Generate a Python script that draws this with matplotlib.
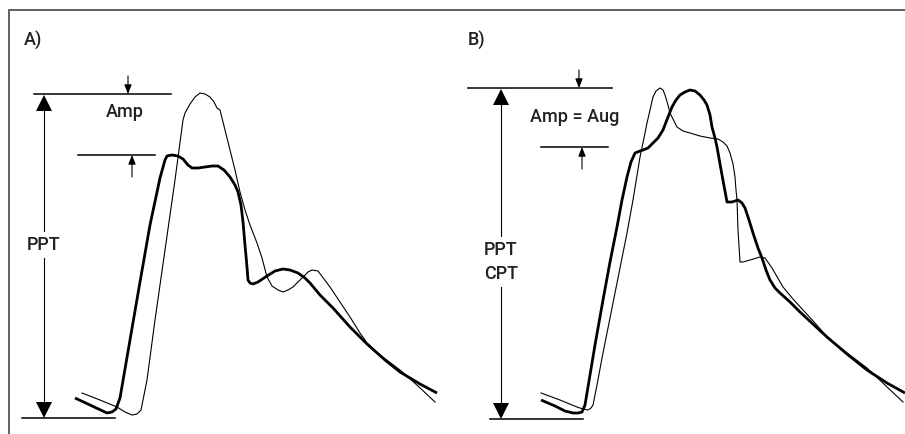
import numpy as np
import matplotlib
matplotlib.use('Agg')
from matplotlib import pyplot as plt

plt.rcParams['font.family'] = ['Roboto', 'DejaVu Sans']
plt.rcParams['font.weight'] = 'medium'

# pulse waveforms (x = time, y = pixel height, down is low)
a_thick_x = [75, 90, 107, 112, 116, 120, 130, 140, 150, 160, 165, 167, 172, 178, 183, 188, 192, 198, 205, 212, 218, 224, 230, 235, 238, 241, 243, 245, 247, 248, 250, 253, 258, 267, 275, 283, 290, 298, 305, 310, 320, 333, 350, 367, 385, 400, 420, 437]
a_thick_y = [398, 405, 413, 412, 409, 398, 340, 282, 225, 178, 160, 156, 155, 156, 159, 165, 168, 168, 167, 166, 166, 170, 177, 185, 192, 205, 222, 245, 267, 280, 283, 284, 282, 276, 271, 269, 270, 273, 278, 283, 295, 308, 327, 344, 360, 372, 384, 393]

a_thin_x = [82, 100, 117, 125, 132, 137, 141, 143, 147, 155, 165, 175, 183, 185, 190, 195, 200, 205, 210, 214, 217, 220, 225, 230, 235, 240, 245, 250, 257, 262, 267, 272, 278, 283, 288, 293, 298, 303, 308, 312, 318, 324, 330, 340, 350, 360, 367, 380, 400, 418, 435]
a_thin_y = [393, 400, 407, 412, 415, 414, 410, 400, 380, 320, 250, 180, 120, 113, 104, 97, 93, 94, 97, 102, 108, 110, 130, 150, 170, 192, 210, 225, 243, 258, 277, 286, 290, 292, 290, 287, 282, 277, 272, 270, 271, 279, 287, 302, 317, 333, 343, 355, 370, 386, 402]

b_thick_x = [541, 555, 565, 573, 578, 582, 585, 587, 595, 603, 610, 617, 622, 627, 631, 635, 640, 643, 648, 653, 658, 663, 668, 672, 676, 680, 685, 690, 695, 700, 704, 707, 710, 712, 715, 717, 722, 727, 732, 738, 742, 745, 749, 753, 758, 762, 766, 770, 775, 780, 790, 800, 814, 827, 847, 867, 887, 905]
b_thick_y = [400, 406, 411, 413, 413, 412, 405, 393, 345, 300, 262, 227, 200, 177, 162, 153, 151, 150, 148, 143, 138, 130, 117, 107, 100, 95, 92, 90, 91, 95, 100, 105, 115, 127, 138, 147, 175, 202, 202, 200, 203, 208, 220, 233, 248, 258, 270, 280, 288, 293, 302, 312, 325, 337, 354, 370, 383, 393]

b_thin_x = [541, 560, 577, 583, 588, 591, 593, 597, 602, 607, 617, 627, 633, 640, 644, 647, 650, 653, 656, 660, 663, 665, 668, 670, 674, 677, 683, 690, 700, 710, 718, 723, 727, 730, 733, 735, 736, 737, 738, 740, 743, 750, 760, 765, 772, 783, 793, 803, 815, 827, 847, 867, 885, 903]
b_thin_y = [393, 400, 407, 409, 410, 408, 405, 385, 358, 333, 283, 233, 200, 157, 138, 123, 110, 97, 91, 88, 90, 95, 105, 113, 121, 127, 131, 133, 136, 138, 139, 142, 146, 153, 164, 177, 190, 200, 230, 262, 262, 260, 257, 258, 268, 287, 299, 310, 323, 337, 353, 368, 385, 402]

panel_labels = ['A)', 'B)']
amp_labels = ['Amp', 'Amp = Aug']
ppt_labels = ['PPT', 'PPT\nCPT']

fig = plt.figure(figsize=(9.05, 4.34), dpi=100)
ax = fig.add_axes([0, 0, 1, 1])
ax.set_xlim(0, 905)
ax.set_ylim(434, 0)
ax.axis('off')

# frame (only left and top visible)
ax.plot([9, 9, 905], [434, 10, 10], color='#555555', lw=1.3, solid_joinstyle='miter')

ax.plot(a_thin_x, a_thin_y, color='k', lw=0.8)
ax.plot(a_thick_x, a_thick_y, color='k', lw=2.0, solid_capstyle='butt')
ax.plot(b_thin_x, b_thin_y, color='k', lw=0.8)
ax.plot(b_thick_x, b_thick_y, color='k', lw=2.0, solid_capstyle='butt')

fs = 13


def annotate_panel(lab, amp, ppt, x_arr, top, bot, top_l, bot_l, mid, mid_l,
                   down_x, up_x, amp_xy, ppt_y, lab_x):
    ax.text(lab_x, 40, lab, fontsize=fs, ha='left', va='center', color='#222222')
    ax.plot(top_l, [top, top], color='k', lw=1.1)
    ax.plot(bot_l, [bot, bot], color='k', lw=1.1)
    ax.plot(mid_l, [mid, mid], color='k', lw=1.1)
    # big double arrow
    ax.plot([x_arr, x_arr], [top + 10, bot - 10], color='k', lw=0.8)
    ax.plot(x_arr, top + 8.5, marker='^', ms=12, color='k', mew=0)
    ax.plot(x_arr, bot - 8.5, marker='v', ms=12, color='k', mew=0)
    ax.text(x_arr, ppt_y, ppt, fontsize=fs, ha='center', va='center',
            linespacing=1.4, color='#222222',
            bbox=dict(facecolor='white', edgecolor='none', pad=3))
    # small arrows
    arr = dict(arrowstyle='-|>,head_length=0.55,head_width=0.22', color='k',
               lw=0.8, shrinkA=0, shrinkB=0)
    ax.annotate('', xy=(down_x, top), xytext=(down_x, top - 18), arrowprops=arr)
    ax.annotate('', xy=(up_x, mid), xytext=(up_x, mid + 22), arrowprops=arr)
    ax.text(amp_xy[0], amp_xy[1], amp, fontsize=fs, ha='center', va='center',
            color='#222222')


annotate_panel(panel_labels[0], amp_labels[0], ppt_labels[0], 44, 94, 418,
               [34, 171], [22, 115], 155, [78, 155], 128, 132, (125, 112), 245, 24)
annotate_panel(panel_labels[1], amp_labels[1], ppt_labels[1], 501, 88, 419,
               [468, 612], [490, 583], 147, [541, 608], 579, 582, (575, 117), 262, 468)

fig.savefig('out.png', dpi=100)
